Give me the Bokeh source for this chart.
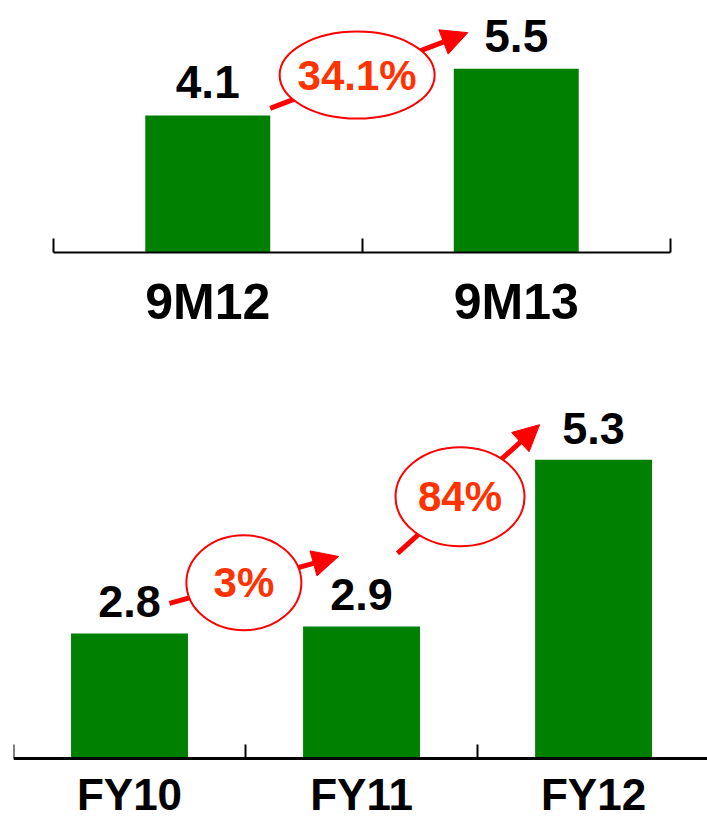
from bokeh.plotting import figure
from bokeh.layouts import column
from bokeh.models import ColumnDataSource, Range1d, FixedTicker, LabelSet, Arrow, NormalHead
from bokeh.core.properties import value
from bokeh.embed import file_html
from bokeh.resources import INLINE

# ---------------- data ----------------
top_categories = ["9M12", "9M13"]
top_values = [4.1, 5.5]
top_growth = ["34.1%"]

bottom_categories = ["FY10", "FY11", "FY12"]
bottom_values = [2.8, 2.9, 5.3]
bottom_growth = ["3%", "84%"]

# ---------------- style ----------------
BAR_GREEN = "#008000"
RED = "#FF0000"
GROWTH_COLOR = "#FF3300"
FONT = "Liberation Sans"


def build(categories, values, growth, *, width, height, borders, x_end, y_start, y_end,
          base, fixed_axis, bar_width, axis_width, value_size, value_gap,
          cat_size, cat_standoff, arrow_px, ellipse_px):
    bl, br, bt, bb = borders
    frame_w = width - bl - br
    frame_h = height - bt - bb
    ppx = frame_w / (x_end - 0.0)
    ppy = frame_h / (y_end - y_start)

    n = len(categories)
    xs = [i + 0.5 for i in range(n)]

    p = figure(width=width, height=height, x_range=Range1d(0, x_end),
               y_range=Range1d(y_start, y_end), output_backend="svg",
               toolbar_location=None, tools="", y_axis_location=None,
               min_border_left=bl, min_border_right=br,
               min_border_top=bt, min_border_bottom=bb)
    if "frame_align" in p.properties():
        p.frame_align = False
    p.outline_line_color = None
    p.xgrid.visible = False
    p.ygrid.visible = False
    p.background_fill_color = "white"
    p.border_fill_color = "white"

    ax = p.xaxis[0]
    ax.ticker = FixedTicker(ticks=xs, minor_ticks=list(range(n + 1)))
    ax.major_label_overrides = {x: c for x, c in zip(xs, categories)}
    ax.major_tick_line_color = None
    ax.major_tick_in = 0
    ax.major_tick_out = 0
    ax.minor_tick_in = 14
    ax.minor_tick_out = 0
    ax.minor_tick_line_width = 2
    ax.minor_tick_line_color = "black"
    ax.axis_line_width = axis_width
    ax.axis_line_color = "black"
    ax.major_label_text_font = FONT
    ax.major_label_text_font_style = "bold"
    ax.major_label_text_font_size = cat_size
    ax.major_label_text_color = "black"
    ax.major_label_standoff = cat_standoff
    if fixed_axis:
        ax.fixed_location = base

    bars = ColumnDataSource(dict(x=xs, v=values, label=[f"{v:.1f}" for v in values]))
    p.vbar(x="x", top="v", bottom=base, width=bar_width, source=bars,
           fill_color=BAR_GREEN, line_color=None)

    # arrows + ellipses between consecutive bars
    ax0, ay0, ax1, ay1, ex, ey = [], [], [], [], [], []
    for i, (dx0, up0, dx1, up1) in enumerate(arrow_px):
        x0 = xs[i] + bar_width / 2 + dx0 / ppx
        y0 = values[i] + up0 / ppy
        x1 = xs[i + 1] - bar_width / 2 + dx1 / ppx
        y1 = values[i + 1] + up1 / ppy
        ax0.append(x0); ay0.append(y0); ax1.append(x1); ay1.append(y1)
        ex.append(x0 + 0.44 * (x1 - x0))
        ey.append(y0 + 0.44 * (y1 - y0))

    asrc = ColumnDataSource(dict(x0=ax0, y0=ay0, x1=ax1, y1=ay1))
    arrow = Arrow(x_start="x0", y_start="y0", x_end="x1", y_end="y1", source=asrc,
                  line_color=RED, line_width=5,
                  end=NormalHead(size=26, fill_color=RED, line_color=RED, line_width=1))
    arrow.level = "underlay"
    p.add_layout(arrow)

    esrc = ColumnDataSource(dict(x=ex, y=ey, g=growth,
                                 w=[e[0] for e in ellipse_px], h=[e[1] for e in ellipse_px]))
    p.ellipse(x="x", y="y", width="w", height="h", width_units="screen",
              height_units="screen", source=esrc, fill_color="white",
              line_color=RED, line_width=2)
    p.text(x="x", y="y", text="g", source=esrc, text_font=value(FONT),
           text_font_style="bold", text_font_size=value("42px"),
           text_color=GROWTH_COLOR, text_align="center", text_baseline="middle")

    p.add_layout(LabelSet(x="x", y="v", text="label", source=bars, y_offset=value_gap,
                          text_align="center", text_baseline="alphabetic",
                          text_font=value(FONT), text_font_style="bold",
                          text_font_size=value(value_size), text_color="black"))
    return p


p_top = build(top_categories, top_values, top_growth,
              width=707, height=340, borders=(53, 37, 8, 88),
              x_end=2, y_start=0, y_end=7.3, base=0, fixed_axis=False,
              bar_width=0.405, axis_width=2,
              value_size="46px", value_gap=17,
              cat_size="50px", cat_standoff=21,
              arrow_px=[(0, 7, 14, 36)], ellipse_px=[(155, 87)])

p_bottom = build(bottom_categories, bottom_values, bottom_growth,
                 width=707, height=482, borders=(13, 0, 30, 0),
                 x_end=2.991, y_start=0.079, y_end=6.583, base=1.0, fixed_axis=True,
                 bar_width=0.504, axis_width=3,
                 value_size="45px", value_gap=16,
                 cat_size="44px", cat_standoff=12,
                 arrow_px=[(-18.5, 30, 35.5, 70), (-22.5, 73, 4.5, 35)],
                 ellipse_px=[(115, 95), (129, 99)])

layout = column(p_top, p_bottom, spacing=0)
open("out.html", "w").write(file_html(layout, INLINE))
